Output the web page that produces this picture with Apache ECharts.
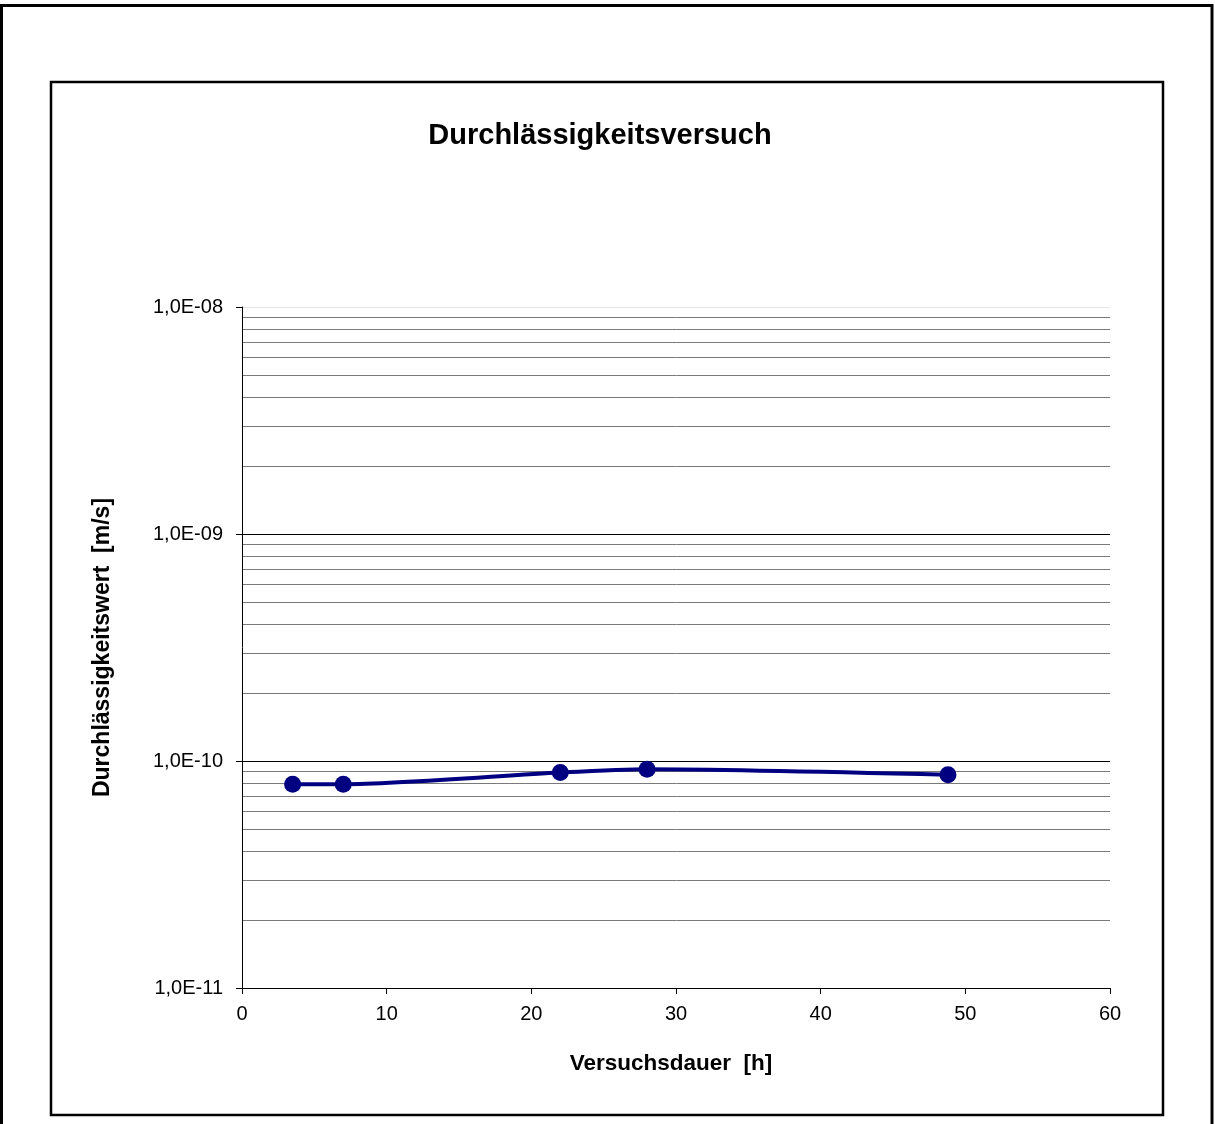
<!DOCTYPE html>
<html>
<head>
<meta charset="utf-8">
<script src="https://cdn.jsdelivr.net/npm/echarts@6/dist/echarts.min.js"></script>
<style>
html,body{margin:0;padding:0;background:#fff;}
#chart{width:1215px;height:1124px;}
</style>
</head>
<body>
<div id="chart"></div>
<script>
// Data
const titleText = 'Durchlässigkeitsversuch';
const xAxisName = 'Versuchsdauer  [h]';
const yAxisName = 'Durchlässigkeitswert  [m/s]';
const durationHours = [3.5, 7.0, 22.0, 28.0, 48.8];
const permeability = [7.9e-11, 7.9e-11, 8.9e-11, 9.2e-11, 8.7e-11];
const xTicks = [0, 10, 20, 30, 40, 50, 60];
const yMajorTicks = [1e-11, 1e-10, 1e-9, 1e-8];
const yMinorGrid = [
  2e-11, 3e-11, 4e-11, 5e-11, 6e-11, 7e-11, 8e-11, 9e-11,
  2e-10, 3e-10, 4e-10, 5e-10, 6e-10, 7e-10, 8e-10, 9e-10,
  2e-9, 3e-9, 4e-9, 5e-9, 6e-9, 7e-9, 8e-9, 9e-9
];

const FONT = '"Liberation Sans", Arial, sans-serif';

function fmtSci(v) {
  const e = Math.round(Math.log10(v));
  const sign = e < 0 ? '-' : '+';
  const a = Math.abs(e);
  return '1,0E' + sign + (a < 10 ? '0' + a : String(a));
}

const points = durationHours.map((x, i) => [x, permeability[i]]);

const chart = echarts.init(document.getElementById('chart'), null, {renderer: 'canvas'});
chart.setOption({
  animation: false,
  backgroundColor: '#ffffff',
  title: {
    text: titleText,
    left: 595,
    textAlign: 'center',
    top: 116,
    textStyle: {fontFamily: FONT, fontSize: 29, fontWeight: 'bold', color: '#000'}
  },
  graphic: [
    {type: 'rect', silent: true, z: -10,
     shape: {x: 1.5, y: 5.5, width: 1210.5, height: 1200},
     style: {fill: 'none', stroke: '#000', lineWidth: 3}},
    {type: 'rect', silent: true, z: -10,
     shape: {x: 51, y: 82, width: 1112, height: 1033},
     style: {fill: 'none', stroke: '#000', lineWidth: 2.5}}
  ],
  grid: {left: 242, top: 307, right: 105, bottom: 136, containLabel: false},
  xAxis: {
    type: 'value',
    min: xTicks[0],
    max: xTicks[xTicks.length - 1],
    interval: 10,
    name: xAxisName,
    nameLocation: 'middle',
    nameGap: 64,
    nameTextStyle: {fontFamily: FONT, fontSize: 22.5, fontWeight: 'bold', color: '#000', padding: [0, 10, 0, 0]},
    axisLine: {show: true, onZero: false, lineStyle: {color: '#000', width: 1}},
    axisTick: {show: true, inside: false, length: 6, lineStyle: {color: '#000'}},
    axisLabel: {fontFamily: FONT, fontSize: 20, color: '#000', margin: 16},
    splitLine: {show: false}
  },
  yAxis: {
    type: 'log',
    logBase: 10,
    min: yMajorTicks[0],
    max: yMajorTicks[yMajorTicks.length - 1],
    name: yAxisName,
    nameLocation: 'middle',
    nameGap: 128,
    nameTextStyle: {fontFamily: FONT, fontSize: 23, fontWeight: 'bold', color: '#000'},
    axisLine: {show: true, lineStyle: {color: '#000', width: 1}},
    axisTick: {show: true, inside: false, length: 6, lineStyle: {color: '#000'}},
    axisLabel: {fontFamily: FONT, fontSize: 20, color: '#000', margin: 19, formatter: fmtSci},
    splitLine: {show: true, lineStyle: {color: ['#000', '#000', '#000', '#e4e4e4'], width: 1}}
  },
  series: [
    {
      type: 'custom',
      z: 1,
      silent: true,
      clip: false,
      data: yMinorGrid.map(v => [xTicks[0], v]),
      encode: {x: 0, y: 1},
      renderItem: function (params, api) {
        const p = api.coord([api.value(0), api.value(1)]);
        const cs = params.coordSys;
        const y = Math.round(p[1]) + 0.5;
        return {
          type: 'line',
          silent: true,
          shape: {x1: cs.x + 1, y1: y, x2: cs.x + cs.width, y2: y},
          style: {stroke: '#7a7a7a', lineWidth: 1}
        };
      }
    },
    {
      type: 'line',
      z: 3,
      data: points,
      smooth: 0.25,
      symbol: 'circle',
      symbolSize: 17,
      lineStyle: {color: '#000080', width: 4},
      itemStyle: {color: '#000080'}
    }
  ]
});
</script>
</body>
</html>
